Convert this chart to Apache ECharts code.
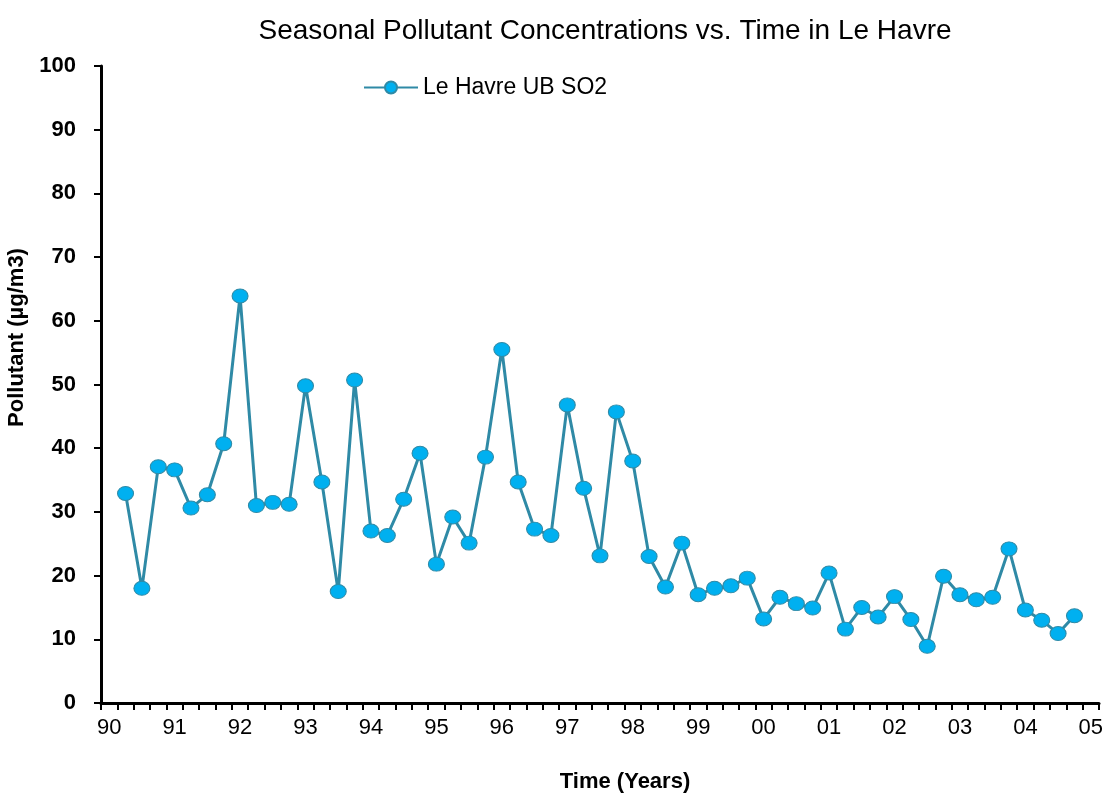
<!DOCTYPE html>
<html>
<head>
<meta charset="utf-8">
<title>Seasonal Pollutant Concentrations vs. Time in Le Havre</title>
<script src="https://cdn.jsdelivr.net/npm/echarts@6/dist/echarts.min.js"></script>
<style>
  html, body { margin: 0; padding: 0; background: #fff; }
  #chart { width: 1107px; height: 798px; }
</style>
</head>
<body>
<div id="chart"></div>
<script>
// year labels, one every 4 quarters (90 ... 05)
var years = ['90', '91', '92', '93', '94', '95', '96', '97', '98', '99', '00', '01', '02', '03', '04', '05'];

// seasonal SO2, from 90 Q2 to 04 Q4
var so2 = [
  32.9, 18.0, 37.1, 36.6,
  30.6, 32.7, 40.7, 63.9,
  31.0, 31.5, 31.2, 49.8,
  34.7, 17.5, 50.7, 27.0,
  26.3, 32.0, 39.2, 21.8,
  29.2, 25.1, 38.6, 55.5,
  34.7, 27.3, 26.3, 46.8,
  33.7, 23.1, 45.7, 38.0,
  23.0, 18.2, 25.1, 17.0,
  18.0, 18.4, 19.6, 13.2,
  16.6, 15.6, 14.9, 20.4,
  11.6, 15.0, 13.5, 16.7,
  13.1, 8.9, 19.9, 17.0,
  16.2, 16.6, 24.2, 14.6,
  13.0, 10.9, 13.7
];

// quarter categories; only the first quarter of each year carries a label
var categories = [];
years.forEach(function (y, i) {
  categories.push(y);
  if (i < years.length - 1) categories.push(y + 'b', y + 'c', y + 'd');
});
// 90 Q1 and 05 Q1 have no value
var seriesData = [null].concat(so2);
while (seriesData.length < categories.length) seriesData.push(null);

var myChart = echarts.init(document.getElementById('chart'));
var option = {
  backgroundColor: '#fff',
  animation: false,
  title: {
    text: 'Seasonal Pollutant Concentrations vs. Time in Le Havre',
    left: 600,
    textAlign: 'center',
    top: 12,
    textStyle: {
      fontFamily: 'Liberation Sans',
      fontWeight: 'normal',
      fontSize: 28,
      color: '#000'
    }
  },
  legend: {
    left: 358,
    top: 71,
    itemWidth: 54,
    itemHeight: 15,
    itemGap: 6,
    textStyle: { fontFamily: 'Liberation Sans', fontSize: 23, color: '#000' },
    data: ['Le Havre UB SO2']
  },
  grid: {
    left: 101,
    right: 8,
    top: 66,
    bottom: 95,
    containLabel: false,
    outerBoundsMode: 'none'
  },
  xAxis: {
    type: 'category',
    data: categories,
    boundaryGap: true,
    name: 'Time (Years)',
    nameLocation: 'middle',
    nameGap: 68,
    nameTextStyle: {
      fontFamily: 'Liberation Sans', fontWeight: 'bold', fontSize: 22, color: '#000',
      padding: [0, 0, 0, 50]
    },
    axisLine: { lineStyle: { color: '#000', width: 3 } },
    axisTick: { show: true, interval: 0, length: 7, lineStyle: { color: '#000', width: 2 } },
    axisLabel: {
      interval: 3,
      margin: 14,
      fontFamily: 'Liberation Sans',
      fontSize: 22,
      color: '#000',
      formatter: function (v) { return v.length === 2 ? v : ''; }
    },
    splitLine: { show: false }
  },
  yAxis: {
    type: 'value',
    min: 0,
    max: 100,
    interval: 10,
    name: 'Pollutant (µg/m3)',
    nameLocation: 'middle',
    nameGap: 68,
    nameTextStyle: {
      fontFamily: 'Liberation Sans', fontWeight: 'bold', fontSize: 22, color: '#000',
      padding: [0, 0, 0, 94]
    },
    axisLine: { show: true, lineStyle: { color: '#000', width: 3 } },
    axisTick: { show: true, length: 7, lineStyle: { color: '#000', width: 2 } },
    axisLabel: {
      margin: 25,
      fontFamily: 'Liberation Sans',
      fontWeight: 'bold',
      fontSize: 22,
      color: '#000'
    },
    splitLine: { show: false }
  },
  series: [
    {
      name: 'Le Havre UB SO2',
      type: 'line',
      data: seriesData,
      connectNulls: false,
      showAllSymbol: true,
      symbol: 'circle',
      symbolSize: [16, 14],
      lineStyle: { color: '#2f8aa6', width: 3 },
      itemStyle: { color: '#00b0f0', borderColor: '#2f8aa6', borderWidth: 1 }
    }
  ]
};
myChart.setOption(option);
</script>
</body>
</html>
